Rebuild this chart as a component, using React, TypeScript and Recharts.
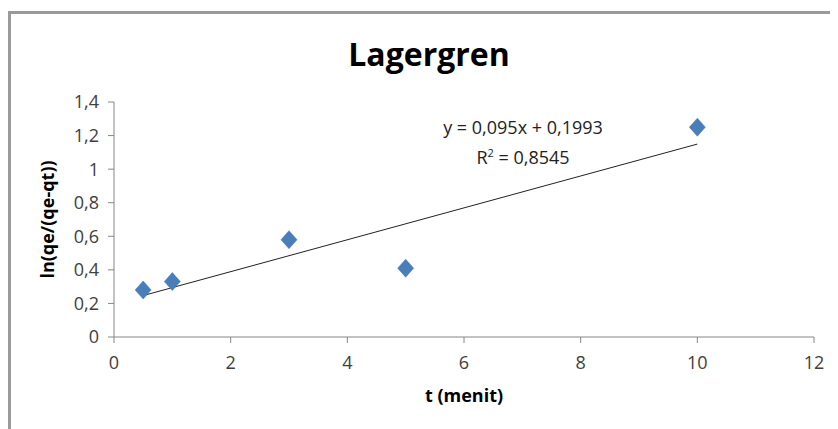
import { ComposedChart, Scatter, XAxis, YAxis } from "recharts";

const tValues = [0.5, 1, 3, 5, 10];
const lnValues = [0.28, 0.33, 0.58, 0.41, 1.25];
const xTicks = [0, 2, 4, 6, 8, 10, 12];
const yTicks = [0, 0.2, 0.4, 0.6, 0.8, 1, 1.2, 1.4];
const slope = 0.095;
const intercept = 0.1993;
const trendRange = [0.5, 10];

const points = tValues.map((t, i) => ({ t, v: lnValues[i] }));
const trend = trendRange.map((t) => ({ t, v: slope * t + intercept }));

const font = "'Open Sans', sans-serif";

function Diamond(props: any) {
  const { cx, cy } = props;
  const r = 8;
  return (
    <path
      d={`M${cx},${cy - r - 1} L${cx + r},${cy} L${cx},${cy + r + 1} L${cx - r},${cy} Z`}
      fill="#4a7ebb"
      stroke="#4472a8"
      strokeWidth={0.5}
    />
  );
}

const fmt = (v: number) => String(v).replace(".", ",");

export default function App() {
  return (
    <div style={{ position: "relative", width: 838, height: 429, margin: "-8px 0 0 -8px", background: "#fff", overflow: "hidden" }}>
      <div
        style={{
          position: "absolute",
          left: 8,
          top: 11,
          width: 900,
          height: 500,
          borderLeft: "3px solid #9a9a9a",
          borderTop: "3px solid #9a9a9a",
        }}
      />
      <div
        style={{
          position: "absolute",
          left: 0,
          width: 858,
          top: 32,
          textAlign: "center",
          fontFamily: font,
          fontWeight: 700,
          fontSize: 32,
          lineHeight: "44px",
          color: "#000",
        }}
      >
        Lagergren
      </div>
      <div
        style={{
          position: "absolute",
          left: 423,
          width: 200,
          top: 114,
          textAlign: "center",
          fontFamily: font,
          fontSize: 18,
          lineHeight: "26px",
          color: "#222",
        }}
      >
        <div>y = 0,095x + 0,1993</div>
        <div>
          R<sup style={{ fontSize: 11 }}>2</sup> = 0,8545
        </div>
      </div>
      <div style={{ position: "absolute", left: 0, top: 0 }}>
        <ComposedChart
          width={838}
          height={429}
          margin={{ top: 102, right: 24, bottom: 62, left: 0 }}
        >
          <XAxis
            type="number"
            dataKey="t"
            domain={[0, 12]}
            ticks={xTicks}
            interval={0}
            height={30}
            stroke="#868686"
            tickSize={6}
            tickMargin={13}
            tick={{ fill: "#404040", fontSize: 18, fontFamily: font }}
            label={{
              value: "t (menit)",
              position: "insideBottom",
              offset: -35,
              style: { fill: "#000", fontWeight: 700, fontSize: 18, fontFamily: font },
            }}
          />
          <YAxis
            type="number"
            dataKey="v"
            domain={[0, 1.4]}
            ticks={yTicks}
            interval={0}
            width={114}
            stroke="#868686"
            tickSize={6}
            tickMargin={9}
            tickFormatter={fmt}
            tick={{ fill: "#404040", fontSize: 18, fontFamily: font }}
            label={{
              value: "ln(qe/(qe-qt))",
              angle: -90,
              position: "center",
              dx: -9,
              style: { fill: "#000", fontWeight: 700, fontSize: 18, fontFamily: font, textAnchor: "middle" },
            }}
          />
          <Scatter
            data={trend}
            line={{ stroke: "#222", strokeWidth: 1 }}
            shape={() => <g />}
            isAnimationActive={false}
          />
          <Scatter data={points} shape={Diamond} isAnimationActive={false} />
        </ComposedChart>
      </div>
    </div>
  );
}
